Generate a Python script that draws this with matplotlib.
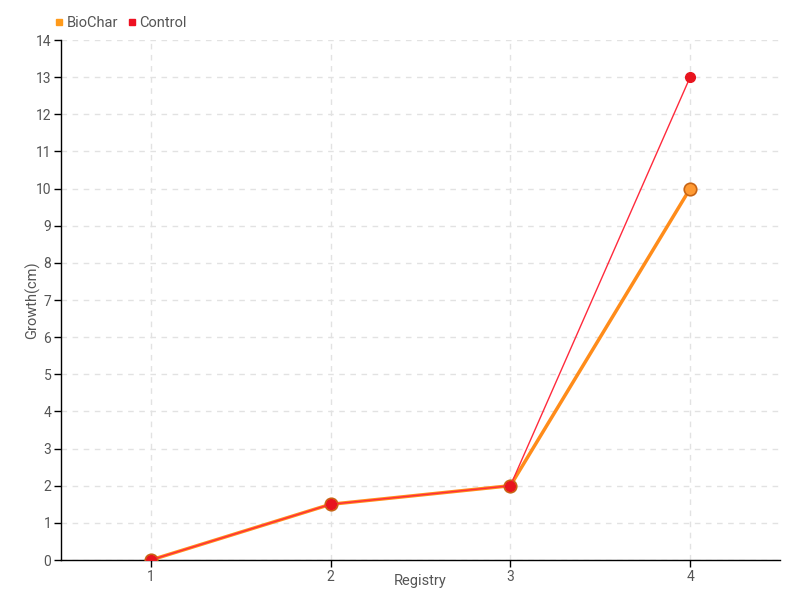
import matplotlib as mpl
mpl.use('Agg')
import matplotlib.pyplot as plt
from matplotlib.lines import Line2D

registry = [1, 2, 3, 4]
biochar = [0, 1.5, 2, 10]
control = [0, 1.5, 2, 13]
y_ticks = list(range(0, 15))

plt.rcParams['font.family'] = ['Roboto', 'DejaVu Sans']

fig = plt.figure(figsize=(8, 6), dpi=100)
ax = fig.add_axes([61 / 800, 40 / 600, 719 / 800, 520 / 600])

ax.plot(registry, biochar, color='#ff8c1a', lw=2.5, marker='o', ms=9,
        mfc='#ff9a33', mec='#c86414', mew=1.2, zorder=3, solid_capstyle='round')
ax.plot(registry, control, color='#ff2a3c', lw=1, zorder=4)
ax.plot(registry, control, ls='none', marker='o', ms=7, mfc='#e8141e', mec='#e8141e', zorder=5)

ax.set_xlim(0.5, 4.5)
ax.set_ylim(0, 14)
ax.set_xticks(registry)
ax.set_yticks(y_ticks)
ax.grid(True, ls=(0, (4, 4)), color='#e2e2e2', lw=1)
ax.set_axisbelow(True)
for s in ['top', 'right']:
    ax.spines[s].set_visible(False)
for s in ['left', 'bottom']:
    ax.spines[s].set_color('black')
    ax.spines[s].set_linewidth(1)
ax.tick_params(labelcolor='#555555', labelsize=10, length=5, width=1, color='black', pad=2)

ax.set_xlabel('Registry', color='#555555', fontsize=10.5)
ax.set_ylabel('Growth(cm)', color='#555555', fontsize=10.5)
ax.xaxis.set_label_coords(0.5, -0.027)
ax.yaxis.set_label_coords(-0.029, 0.5)

handles = [Line2D([], [], ls='none', marker='s', ms=5, color='#ff9a1a'),
           Line2D([], [], ls='none', marker='s', ms=5, color='#ee1122')]
fig.legend(handles, ['BioChar', 'Control'], loc='upper left', bbox_to_anchor=(0.05, 0.995),
           ncol=2, frameon=False, handletextpad=0.1, columnspacing=0.6,
           fontsize=10.5, labelcolor='#555555', handlelength=0.8)

fig.savefig('out.png', dpi=100)
